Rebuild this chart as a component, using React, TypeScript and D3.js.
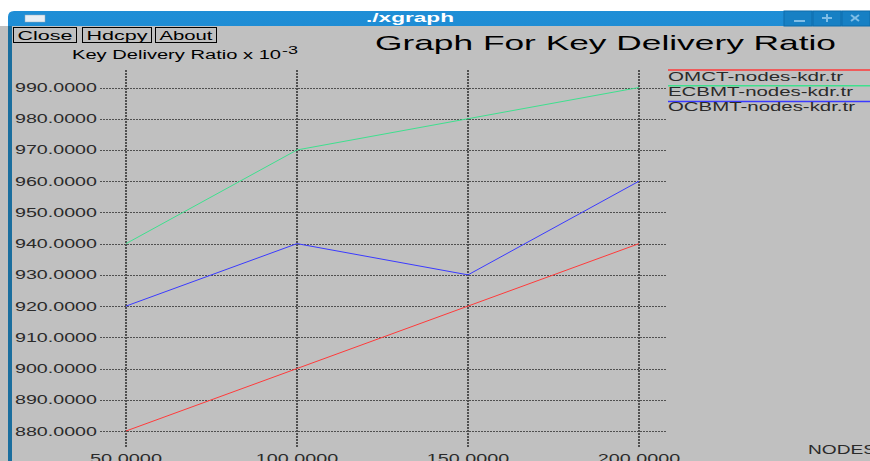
import React from "react";
import * as d3 from "d3";

const nodes = [50, 100, 150, 200];
const omct = [880, 900, 920, 940];
const ecbmt = [940, 970, 980, 990];
const ocbmt = [920, 940, 930, 960];
const yTicks = [880, 890, 900, 910, 920, 930, 940, 950, 960, 970, 980, 990];
const xTicks = [50, 100, 150, 200];
const seriesNames = ["OMCT-nodes-kdr.tr", "ECBMT-nodes-kdr.tr", "OCBMT-nodes-kdr.tr"];
const seriesColors = ["#ff3a3a", "#3ee08e", "#3a3aff"];
const buttons = ["Close", "Hdcpy", "About"];

const W = 870;
const H = 461;
const FONT = "'Liberation Sans', Arial, Helvetica, sans-serif";

export default function App() {
  const x = d3.scaleLinear().domain([50, 200]).range([126, 639]);
  const y = d3.scaleLinear().domain([880, 990]).range([431, 87.5]);
  const line = d3
    .line<[number, number]>()
    .x((d) => x(d[0]))
    .y((d) => y(d[1]));
  const series = [omct, ecbmt, ocbmt];

  const btnBoxes = [
    [13, 76],
    [82, 151],
    [155, 216],
  ];
  const legendW = [175, 185, 187];

  return (
    <svg
      width={W}
      height={H}
      style={{ position: "fixed", left: 0, top: 0, display: "block" }}
      fontFamily={FONT}
    >
      <defs>
        <linearGradient id="tb" x1="0" y1="0" x2="0" y2="1">
          <stop offset="0" stopColor="#1f8ed6" />
          <stop offset="1" stopColor="#0a66aa" />
        </linearGradient>
      </defs>
      <rect x={0} y={0} width={W} height={H} fill="#ffffff" />
      <rect x={0} y={26} width={W} height={H - 26} fill="#c0c0c0" />
      {/* window frame */}
      <path d={`M8,${H} L8,17 Q8,11 14,11 L${W},11 L${W},26 L12,26 L12,${H} Z`} fill="url(#tb)" />
      <rect x={8} y={26} width={4} height={H - 26} fill="#1a6e9e" />
      <rect x={25} y={15} width={20} height={7} fill="#e8eef4" stroke="#9ab" strokeWidth={0.5} />
      <text x={410} y={22} textAnchor="middle" fill="#ffffff" fontWeight="bold" fontSize={12} textLength={88} lengthAdjust="spacingAndGlyphs">
        ./xgraph
      </text>
      {/* window buttons */}
      {[0, 1, 2].map((i) => (
        <rect key={i} x={784 + i * 29} y={11} width={28} height={15} fill="#1780c4" stroke="#0e6cab" strokeWidth={1} />
      ))}
      <line x1={794} y1={21} x2={805} y2={21} stroke="#7fbde6" strokeWidth={2} />
      <line x1={822} y1={18} x2={832} y2={18} stroke="#7fbde6" strokeWidth={2} />
      <line x1={827} y1={14} x2={827} y2={22} stroke="#7fbde6" strokeWidth={2} />
      <line x1={851} y1={15} x2={859} y2={21} stroke="#7fbde6" strokeWidth={2} />
      <line x1={859} y1={15} x2={851} y2={21} stroke="#7fbde6" strokeWidth={2} />

      {/* buttons */}
      {buttons.map((b, i) => (
        <g key={b}>
          <rect x={btnBoxes[i][0] + 0.5} y={27.5} width={btnBoxes[i][1] - btnBoxes[i][0]} height={15} fill="#c0c0c0" stroke="#000" strokeWidth={1} />
          <text
            x={(btnBoxes[i][0] + btnBoxes[i][1]) / 2 + 0.5}
            y={39.5}
            textAnchor="middle"
            fontSize={12}
            fill="#000"
            textLength={btnBoxes[i][1] - btnBoxes[i][0] - 8}
            lengthAdjust="spacingAndGlyphs"
          >
            {b}
          </text>
        </g>
      ))}

      {/* title */}
      <text x={375} y={50} fontSize={21} fill="#000" textLength={461} lengthAdjust="spacingAndGlyphs">
        Graph For Key Delivery Ratio
      </text>
      {/* y axis label */}
      <text x={72} y={59} fontSize={12} fill="#000" textLength={209} lengthAdjust="spacingAndGlyphs">
        Key Delivery Ratio x 10
      </text>
      <text x={282} y={54} fontSize={11} fill="#000" textLength={16} lengthAdjust="spacingAndGlyphs">
        -3
      </text>

      {/* grid */}
      {yTicks.map((t) => (
        <g key={"y" + t}>
          <line x1={100} x2={667} y1={Math.round(y(t)) + 0.5} y2={Math.round(y(t)) + 0.5} stroke="#505050" strokeWidth={1} strokeDasharray="2,1" />
          <text x={15} y={y(t) + 4.5} fontSize={12} fill="#2a2a2a" textLength={82} lengthAdjust="spacingAndGlyphs">
            {t.toFixed(4)}
          </text>
        </g>
      ))}
      {xTicks.map((t) => {
        const lbl = t.toFixed(4);
        return (
          <g key={"x" + t}>
            <line x1={Math.round(x(t))} x2={Math.round(x(t))} y1={70} y2={448} stroke="#505050" strokeWidth={2} strokeDasharray="2,1" />
            <text x={x(t)} y={463} textAnchor="middle" fontSize={12} fill="#2a2a2a" textLength={lbl.length * 10.3} lengthAdjust="spacingAndGlyphs">
              {lbl}
            </text>
          </g>
        );
      })}

      {/* series */}
      {series.map((s, i) => (
        <path
          key={i}
          d={line(nodes.map((n, j) => [n, s[j]] as [number, number])) || ""}
          fill="none"
          stroke={seriesColors[i]}
          strokeWidth={1}
        />
      ))}

      {/* legend */}
      {seriesNames.map((n, i) => (
        <g key={n}>
          <line x1={668} x2={W} y1={70 + i * 15.7} y2={70 + i * 15.7} stroke={seriesColors[i]} strokeWidth={1.5} />
          <text x={668} y={81 + i * 15} fontSize={12.5} fill="#2a2a2a" textLength={legendW[i]} lengthAdjust="spacingAndGlyphs">
            {n}
          </text>
        </g>
      ))}

      {/* x label */}
      <text x={808} y={454} fontSize={12} fill="#2a2a2a" textLength={68} lengthAdjust="spacingAndGlyphs">
        NODES
      </text>
    </svg>
  );
}
